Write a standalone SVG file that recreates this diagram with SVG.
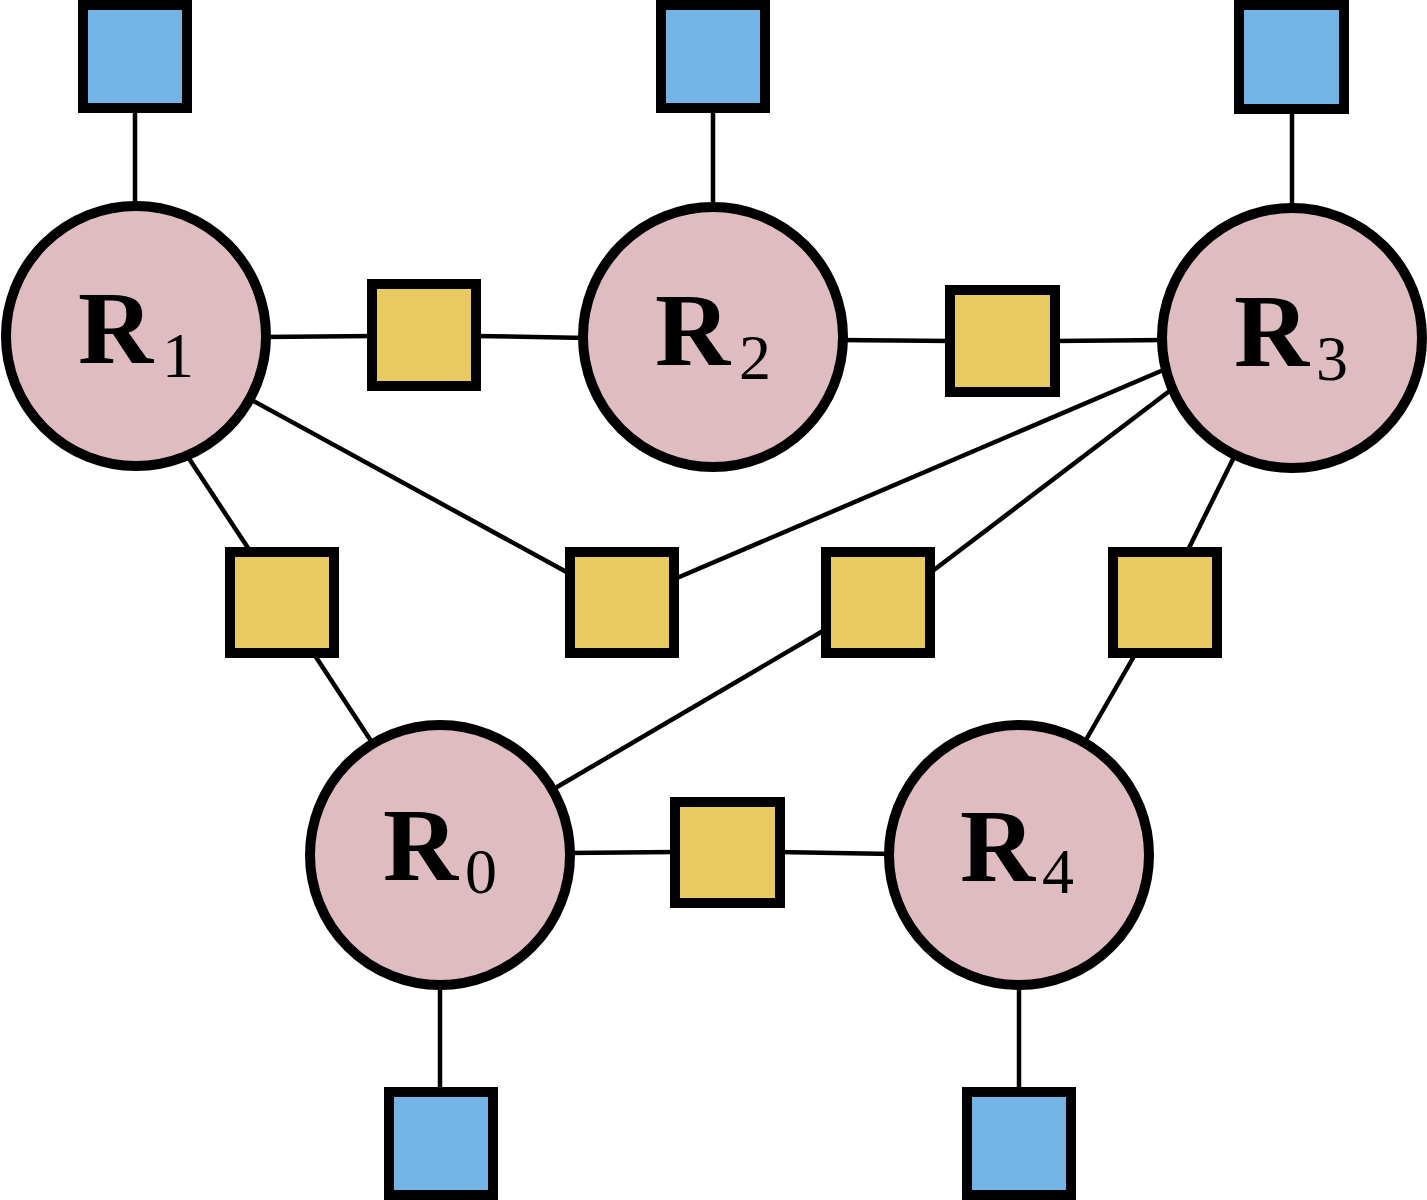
<svg xmlns="http://www.w3.org/2000/svg" width="1427" height="1200" viewBox="0 0 1427 1200">
<style>
.edge{stroke:#000;stroke-width:4.5;fill:none}
.router{fill:#dfbcc2;stroke:#000;stroke-width:10}
.host{fill:#72b4e6;stroke:#000;stroke-width:10}
.link{fill:#e8ca60;stroke:#000;stroke-width:10}
.big{font-family:"Liberation Serif","DejaVu Serif",serif;font-weight:bold;font-size:104px;fill:#000}
.sub{font-family:"Liberation Serif","DejaVu Serif",serif;font-size:64px;fill:#000}
</style>
<rect width="1427" height="1200" fill="#fff"/>
<g id="connectors">
<line class="edge" x1="135" y1="110" x2="135" y2="210"/>
<line class="edge" x1="713" y1="110" x2="713" y2="212"/>
<line class="edge" x1="1292" y1="110" x2="1292" y2="212"/>
<line class="edge" x1="440" y1="985" x2="440" y2="1092"/>
<line class="edge" x1="1019" y1="985" x2="1019" y2="1092"/>
<line class="edge" x1="262" y1="337" x2="375" y2="336"/>
<line class="edge" x1="475" y1="336" x2="588" y2="338"/>
<line class="edge" x1="838" y1="340" x2="952" y2="341"/>
<line class="edge" x1="1053" y1="341" x2="1168" y2="340"/>
<line class="edge" x1="186" y1="454" x2="252" y2="554"/>
<line class="edge" x1="312" y1="651" x2="375" y2="747"/>
<line class="edge" x1="248" y1="398" x2="572" y2="575"/>
<line class="edge" x1="670" y1="581" x2="1182" y2="362"/>
<line class="edge" x1="926" y1="576" x2="1184" y2="380"/>
<line class="edge" x1="828" y1="628" x2="552" y2="790"/>
<line class="edge" x1="1236" y1="453" x2="1186" y2="554"/>
<line class="edge" x1="1137" y1="651" x2="1083" y2="745"/>
<line class="edge" x1="566" y1="853" x2="676" y2="852"/>
<line class="edge" x1="777" y1="852" x2="894" y2="854"/>
</g>
<g id="R1"><circle class="router" cx="136" cy="336" r="130"/><text class="big" x="78" y="363">R</text><text class="sub" x="162" y="377">1</text></g>
<g id="R2"><circle class="router" cx="713" cy="337" r="130"/><text class="big" x="655" y="365">R</text><text class="sub" x="739" y="379">2</text></g>
<g id="R3"><circle class="router" cx="1292" cy="338" r="130"/><text class="big" x="1234" y="366">R</text><text class="sub" x="1316" y="380">3</text></g>
<g id="R0"><circle class="router" cx="440" cy="855" r="130"/><text class="big" x="383" y="880">R</text><text class="sub" x="465" y="893">0</text></g>
<g id="R4"><circle class="router" cx="1019" cy="855" r="130"/><text class="big" x="960" y="881">R</text><text class="sub" x="1042" y="893">4</text></g>
<g id="H1"><rect class="host" x="83" y="5" width="104" height="103"/></g>
<g id="H2"><rect class="host" x="661" y="5" width="104" height="103"/></g>
<g id="H3"><rect class="host" x="1239" y="5" width="105" height="104"/></g>
<g id="H0"><rect class="host" x="389" y="1092" width="104" height="103"/></g>
<g id="H4"><rect class="host" x="967" y="1092" width="104" height="103"/></g>
<g id="L12"><rect class="link" x="372" y="284" width="104" height="102"/></g>
<g id="L23"><rect class="link" x="950" y="290" width="105" height="102"/></g>
<g id="L10"><rect class="link" x="230" y="552" width="104" height="101"/></g>
<g id="L13"><rect class="link" x="570" y="552" width="104" height="101"/></g>
<g id="L03"><rect class="link" x="826" y="552" width="104" height="101"/></g>
<g id="L34"><rect class="link" x="1113" y="552" width="104" height="101"/></g>
<g id="L04"><rect class="link" x="675" y="802" width="105" height="101"/></g>
</svg>
